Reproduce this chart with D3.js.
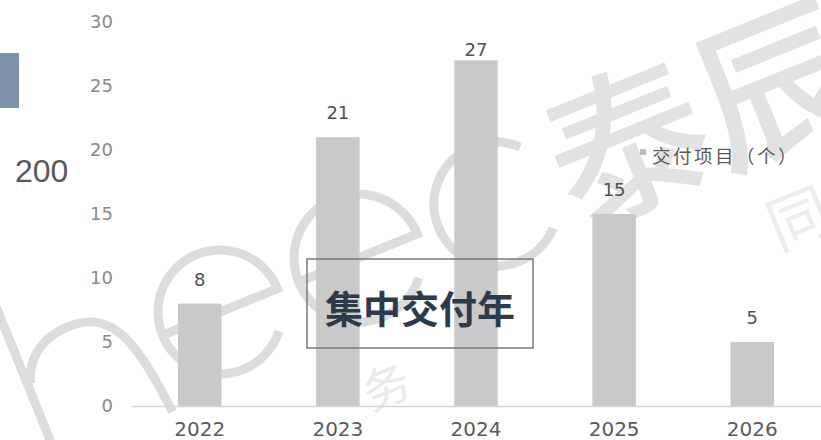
<!DOCTYPE html>
<html>
<head>
<meta charset="utf-8">
<script src="https://cdn.jsdelivr.net/npm/d3@7/dist/d3.min.js"></script>
<style>
  html, body { margin: 0; padding: 0; background: #ffffff; }
  svg { display: block; }
</style>
</head>
<body>
<svg id="chart" width="821" height="440"></svg>
<script>
// Delivered projects per year
const years = ["2022", "2023", "2024", "2025", "2026"];
const projects = [8, 21, 27, 15, 5];
const yTicks = [0, 5, 10, 15, 20, 25, 30];
const seriesName = "交付项目（个）";
const calloutText = "集中交付年";
const sideNumber = "200";

const svg = d3.select("#chart");
const DEG = Math.PI / 180;
const WM_COLOR = "#dcdcdc";

// --- faint brand watermark behind the chart ---
const wm = svg.append("g").attr("class", "watermark");
function wmPath(parent, d) {
  return parent.append("path")
    .attr("d", d)
    .attr("fill", "none")
    .attr("stroke", WM_COLOR)
    .attr("stroke-width", 9)
    .style("stroke-width", "9px");
}

// letter "h": stem plus arch, drawn in a tilted frame
const hG = wm.append("g").attr("transform", "translate(50,440) rotate(-22)");
wmPath(hG, "M0,30 L0,-175");
wmPath(hG, "M3,-60 C14,-92 42,-100 66,-98 C104,-95 118,-62 124,20");

// letters "e": open ring with a crossbar
function letterE(cx, cy, r) {
  const p = d3.path();
  p.moveTo(-r, 0); p.lineTo(r, 0);
  p.arc(0, 0, r, 0, 40 * DEG, true);
  wmPath(wm.append("g").attr("transform", `translate(${cx},${cy}) rotate(-22)`), p.toString());
}
letterE(220, 312, 62);
letterE(358, 258, 64);

// letter "c"
{
  const p = d3.path();
  p.arc(0, 0, 62, -45 * DEG, 45 * DEG, true);
  wmPath(wm.append("g").attr("transform", "translate(496,204) rotate(-22)"), p.toString());
}

const wmText = svg.append("g").attr("class", "watermark-text");
wmText.append("text")
  .attr("transform", "translate(698,104) rotate(-22)")
  .attr("text-anchor", "middle")
  .attr("dominant-baseline", "central")
  .attr("font-family", "Noto Sans CJK SC")
  .attr("font-weight", 500)
  .attr("font-size", 160)
  .attr("fill", "#e2e2e2")
  .text("泰辰");
wmText.append("text")
  .attr("transform", "translate(797,214) rotate(-22)")
  .attr("text-anchor", "middle")
  .attr("dominant-baseline", "central")
  .attr("font-family", "Noto Sans CJK SC")
  .attr("font-weight", 400)
  .attr("font-size", 62)
  .attr("fill", "#ececec")
  .text("同");
wmText.append("text")
  .attr("transform", "translate(385,384) rotate(-22)")
  .attr("text-anchor", "middle")
  .attr("dominant-baseline", "central")
  .attr("font-family", "Noto Sans CJK SC")
  .attr("font-weight", 400)
  .attr("font-size", 46)
  .attr("fill", "#eaeaea")
  .text("务");

// --- side decoration: slate block and large number ---
svg.append("rect")
  .attr("x", 0).attr("y", 53).attr("width", 19).attr("height", 55)
  .attr("fill", "#7f92ac");
svg.append("text")
  .attr("x", 15).attr("y", 182)
  .attr("font-family", "Liberation Sans, Arial, sans-serif")
  .attr("font-size", 32)
  .attr("fill", "#595959")
  .text(sideNumber);

// --- scales ---
const x = d3.scaleBand().domain(years).range([131, 821]).paddingInner(0.685).paddingOuter(0.34);
const y = d3.scaleLinear().domain([0, 30]).range([406, 22]);

// value axis: labels only
const yAxis = svg.append("g")
  .attr("transform", "translate(113,0)")
  .call(d3.axisLeft(y).tickValues(yTicks).tickSize(0).tickPadding(0));
yAxis.select(".domain").remove();
yAxis.selectAll("text")
  .attr("font-family", "DejaVu Sans, sans-serif")
  .attr("font-size", 18)
  .attr("fill", "#8a8a8a");

const rows = years.map((yr, i) => ({ yr, v: projects[i] }));

// bars
svg.append("g").selectAll("rect")
  .data(rows)
  .join("rect")
  .attr("x", d => x(d.yr))
  .attr("width", x.bandwidth())
  .attr("y", d => y(d.v))
  .attr("height", d => y(0) - y(d.v))
  .attr("fill", "#c9c9c9");

// category axis
const xAxis = svg.append("g")
  .attr("transform", `translate(0,${y(0)})`)
  .call(d3.axisBottom(x).tickSize(0).tickPadding(16));
xAxis.select(".domain").attr("stroke", "#d6d6d6").attr("stroke-width", 1.5);
xAxis.selectAll("text")
  .attr("font-family", "DejaVu Sans, sans-serif")
  .attr("font-size", 20)
  .attr("fill", "#5a5a5a");

// value labels above bars
svg.append("g").selectAll("text")
  .data(rows)
  .join("text")
  .attr("x", d => x(d.yr) + x.bandwidth() / 2)
  .attr("y", d => Math.max(y(d.v) - 18, 56))
  .attr("text-anchor", "middle")
  .attr("font-family", "DejaVu Sans, sans-serif")
  .attr("font-size", 18)
  .attr("fill", "#505050")
  .text(d => d.v);

// legend
const lg = svg.append("g");
lg.append("rect")
  .attr("x", 640).attr("y", 149).attr("width", 6).attr("height", 6)
  .attr("fill", "#bdbdbd");
lg.append("text")
  .attr("x", 652).attr("y", 155)
  .attr("dominant-baseline", "central")
  .attr("font-family", "Noto Sans CJK SC")
  .attr("font-size", 18.5)
  .attr("letter-spacing", 2.5)
  .attr("fill", "#5a5a5a")
  .text(seriesName);

// callout box
svg.append("rect")
  .attr("x", 307).attr("y", 259).attr("width", 226).attr("height", 89)
  .attr("fill", "none")
  .attr("stroke", "#7a7a7a")
  .attr("stroke-width", 1.5);
svg.append("text")
  .attr("x", 420).attr("y", 306)
  .attr("text-anchor", "middle")
  .attr("dominant-baseline", "central")
  .attr("font-family", "Noto Sans CJK SC")
  .attr("font-weight", 700)
  .attr("font-size", 38)
  .attr("fill", "#2d3a4b")
  .text(calloutText);
</script>
</body>
</html>
